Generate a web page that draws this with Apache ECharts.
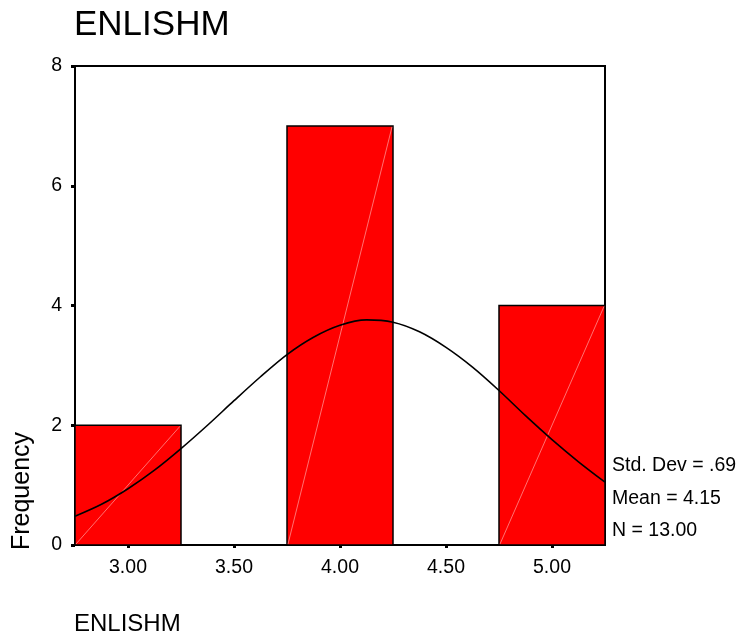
<!DOCTYPE html>
<html>
<head>
<meta charset="utf-8">
<script src="https://cdn.jsdelivr.net/npm/echarts@6/dist/echarts.min.js"></script>
<style>
  html, body { margin: 0; padding: 0; background: #fff; }
  #chart { width: 740px; height: 642px; }
</style>
</head>
<body>
<div id="chart"></div>
<script>
// Histogram of ENLISHM with fitted normal curve
const variableName = 'ENLISHM';
const binLower = [2.75, 3.25, 3.75, 4.25, 4.75];
const binUpper = [3.25, 3.75, 4.25, 4.75, 5.25];
const binCounts = [2, 0, 7, 0, 4];

// Normal curve heights (in frequency units) along the x range
const curveX = [2.75, 2.875, 3.0, 3.125, 3.25, 3.375, 3.5, 3.625, 3.75, 3.875, 4.0,
                4.125, 4.25, 4.375, 4.5, 4.625, 4.75, 4.875, 5.0, 5.125, 5.25];
const curveY = [0.48, 0.68, 0.94, 1.25, 1.61, 2.00, 2.41, 2.81, 3.18, 3.47, 3.67,
                3.76, 3.72, 3.56, 3.30, 2.97, 2.58, 2.16, 1.76, 1.39, 1.05];

const xTickValues = [3.0, 3.5, 4.0, 4.5, 5.0];
const yTickValues = [0, 2, 4, 6, 8];
const statLines = ['Std. Dev = .69', 'Mean = 4.15', 'N = 13.00'];

const FONT = "'Liberation Sans', Arial, sans-serif";

const barData = binLower
  .map((lo, i) => [lo, binUpper[i], binCounts[i]])
  .filter(d => d[2] > 0);
const lineData = curveX.map((x, i) => [x, curveY[i]]);

const chart = echarts.init(document.getElementById('chart'), null, { renderer: 'canvas' });

const option = {
  backgroundColor: '#ffffff',
  animation: false,
  grid: {
    left: 75, right: 135, top: 66, bottom: 97,
    show: true, borderColor: '#000', borderWidth: 2, backgroundColor: 'transparent'
  },
  xAxis: {
    type: 'value',
    min: 2.75, max: 5.25,
    offset: 3,
    axisLine: { show: false },
    splitLine: { show: false },
    axisTick: {
      show: true, customValues: xTickValues, length: 3, inside: false,
      lineStyle: { color: '#000', width: 3 }
    },
    axisLabel: {
      customValues: xTickValues,
      formatter: v => v.toFixed(2),
      color: '#000', fontFamily: FONT, fontSize: 19.5, margin: 10
    }
  },
  yAxis: {
    type: 'value',
    min: 0, max: 8, interval: 2,
    axisLine: { show: false },
    splitLine: { show: false },
    axisTick: { show: true, length: 4, lineStyle: { color: '#000', width: 3 } },
    axisLabel: {
      customValues: yTickValues,
      color: '#000', fontFamily: FONT, fontSize: 19.5, margin: 13
    }
  },
  series: [
    {
      type: 'custom',
      data: barData,
      z: 2,
      renderItem: function (params, api) {
        const lo = api.value(0), hi = api.value(1), f = api.value(2);
        const pTop = api.coord([lo, f]);
        const pBot = api.coord([hi, 0]);
        return {
          type: 'group',
          children: [
            {
              type: 'rect',
              shape: { x: pTop[0], y: pTop[1], width: pBot[0] - pTop[0], height: pBot[1] - pTop[1] },
              style: { fill: '#ff0000', stroke: '#000', lineWidth: 1.5 }
            },
            {
              type: 'line',
              shape: { x1: pTop[0] + 1, y1: pBot[1] - 1, x2: pBot[0] - 1, y2: pTop[1] + 1 },
              style: { stroke: 'rgba(255,190,190,0.75)', lineWidth: 0.8 }
            }
          ]
        };
      }
    },
    {
      type: 'line',
      data: lineData,
      z: 5,
      smooth: 0.3,
      showSymbol: false,
      lineStyle: { color: '#000', width: 1.6 }
    }
  ],
  graphic: [
    {
      type: 'text', left: 74, top: 8,
      style: { text: variableName, font: '35px ' + FONT, fill: '#000' }
    },
    {
      type: 'text', left: 74, top: 612,
      style: { text: variableName, font: '24px ' + FONT, fill: '#000' }
    },
    {
      type: 'text', x: 22, y: 491, rotation: Math.PI / 2,
      style: { text: 'Frequency', font: '25px ' + FONT, fill: '#000', align: 'center', verticalAlign: 'middle' }
    },
    ...statLines.map((t, i) => ({
      type: 'text', x: 612, y: 466 + i * 32.5,
      style: { text: t, font: '19.5px ' + FONT, fill: '#000', align: 'left', verticalAlign: 'middle' }
    }))
  ]
};

chart.setOption(option);
</script>
</body>
</html>
